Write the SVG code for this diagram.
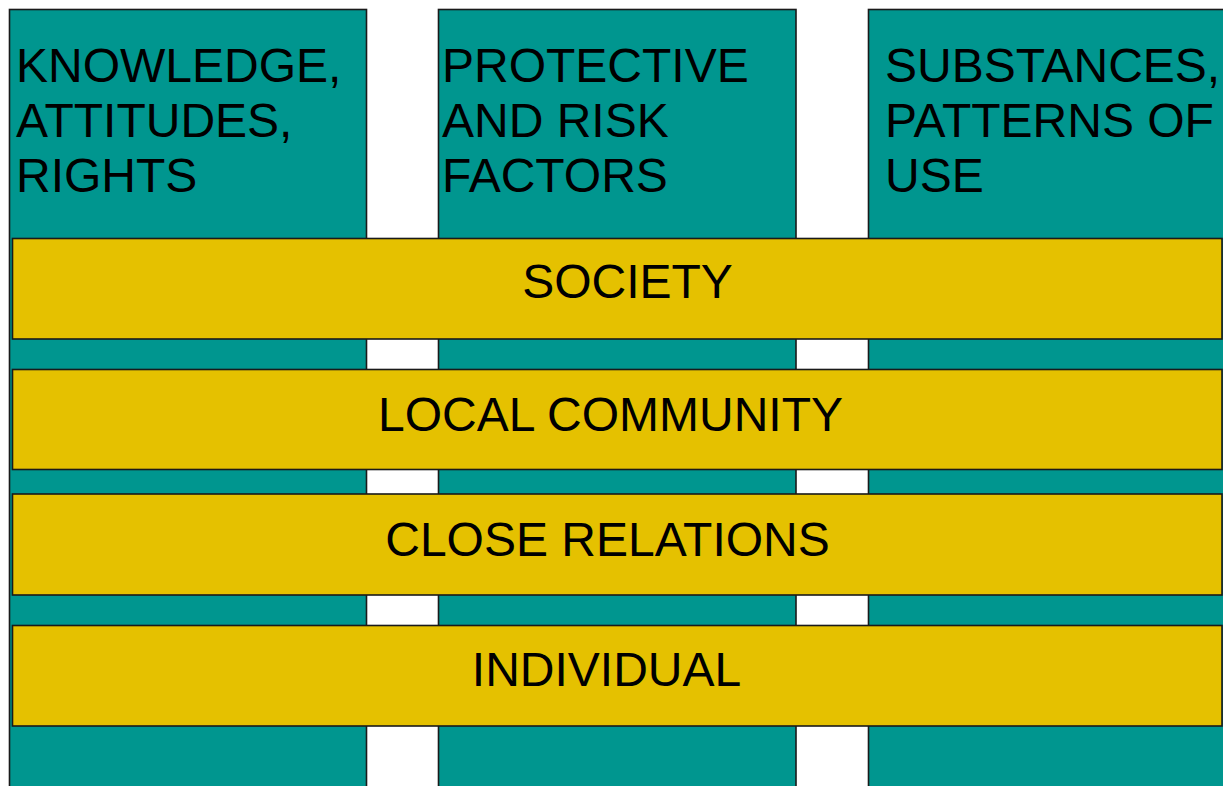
<svg xmlns="http://www.w3.org/2000/svg" width="1223" height="786" viewBox="0 0 1223 786">
<style>
.col{fill:#00968F;stroke:#1a1a1a;stroke-width:1.6}
.bar{fill:#E5C100;stroke:#1a1a1a;stroke-width:1.6}
text{font-family:"Liberation Sans",Arial,sans-serif;font-size:48px;fill:#000}
.c{text-anchor:middle}
</style>
<rect width="1223" height="786" fill="#fff"/>
<g id="col-knowledge">
<rect class="col" x="9.5" y="9.5" width="357" height="800"/>
<text x="16" y="81.5">KNOWLEDGE,</text>
<text x="16" y="136.5">ATTITUDES,</text>
<text x="16" y="191.5">RIGHTS</text>
</g>
<g id="col-protective">
<rect class="col" x="438.5" y="9.5" width="357.5" height="800"/>
<text x="442" y="81.5">PROTECTIVE</text>
<text x="442" y="136.5">AND RISK</text>
<text x="442" y="191.5">FACTORS</text>
</g>
<g id="col-substances">
<rect class="col" x="868.5" y="9.5" width="380" height="800"/>
<text x="885" y="81.5">SUBSTANCES,</text>
<text x="885" y="136.5">PATTERNS OF</text>
<text x="885" y="191.5">USE</text>
</g>
<g id="bar-society">
<rect class="bar" x="12.5" y="238.5" width="1209.5" height="100.5"/>
<text class="c" x="627.5" y="297.5">SOCIETY</text>
</g>
<g id="bar-local">
<rect class="bar" x="12.5" y="369.5" width="1209.5" height="100"/>
<text class="c" x="610.5" y="430.5">LOCAL COMMUNITY</text>
</g>
<g id="bar-close">
<rect class="bar" x="12.5" y="494" width="1209.5" height="101"/>
<text class="c" x="607.5" y="555.5">CLOSE RELATIONS</text>
</g>
<g id="bar-individual">
<rect class="bar" x="12.5" y="625.5" width="1209.5" height="100.5"/>
<text class="c" x="606.5" y="685.5">INDIVIDUAL</text>
</g>
<g id="connectors"></g>
</svg>
